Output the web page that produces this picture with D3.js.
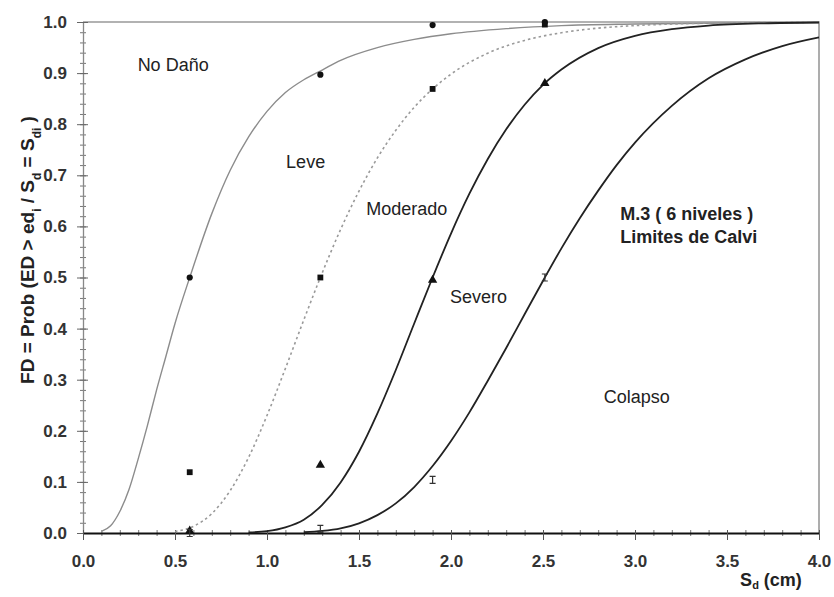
<!DOCTYPE html>
<html lang="es">
<head>
<meta charset="UTF-8">
<title>Curvas de fragilidad - M.3 (6 niveles)</title>
<script src="https://d3js.org/d3.v7.min.js"></script>
<style>
  body { margin: 0; background: #fff; }
  svg { display: block; font-family: "Liberation Sans", Arial, sans-serif; }
  .tick text { font-size: 17px; font-weight: bold; fill: #333; }
</style>
</head>
<body>
<div id="chart"></div>
<script>
const width = 834;
const height = 597;
const margin = {top: 22, right: 15, bottom: 64, left: 83};

// ticks
const xTicks = [0, 0.5, 1.0, 1.5, 2.0, 2.5, 3.0, 3.5, 4.0];
const yTicks = [0, 0.1, 0.2, 0.3, 0.4, 0.5, 0.6, 0.7, 0.8, 0.9, 1.0];

// observed points (Sd in cm)
const sdPoints = [0.58, 1.29, 1.90, 2.51];
const fdLevePts = [0.50, 0.897, 0.994, 1.0];
const fdModeradoPts = [0.119, 0.50, 0.869, 0.995];
const fdSeveroPts = [0.004, 0.133, 0.495, 0.88];
const fdColapsoPts = [0.0, 0.008, 0.104, 0.50];

// fitted curves
const sdLeve = [0.10, 0.15, 0.20, 0.25, 0.30, 0.35, 0.40, 0.45, 0.50, 0.58, 0.70, 0.80, 0.90, 1.00, 1.10, 1.20, 1.30, 1.40, 1.60, 1.80, 2.00, 2.30, 2.60, 3.00, 3.50, 4.00];
const fdLeve = [0.003, 0.014, 0.042, 0.085, 0.145, 0.21, 0.28, 0.345, 0.41, 0.50, 0.625, 0.71, 0.775, 0.825, 0.862, 0.887, 0.906, 0.925, 0.95, 0.966, 0.977, 0.987, 0.993, 0.996, 0.998, 0.999];

const sdModerado = [0.50, 0.60, 0.70, 0.80, 0.90, 1.00, 1.10, 1.20, 1.29, 1.40, 1.50, 1.60, 1.70, 1.80, 1.90, 2.00, 2.20, 2.40, 2.60, 2.80, 3.00, 3.30, 3.60, 4.00];
const fdModerado = [0.003, 0.013, 0.038, 0.083, 0.148, 0.23, 0.322, 0.417, 0.50, 0.594, 0.669, 0.734, 0.788, 0.833, 0.869, 0.898, 0.939, 0.964, 0.979, 0.988, 0.993, 0.997, 0.9985, 0.9995];

const sdSevero = [0.90, 1.00, 1.10, 1.20, 1.30, 1.40, 1.50, 1.60, 1.70, 1.80, 1.90, 2.00, 2.10, 2.20, 2.30, 2.40, 2.50, 2.60, 2.80, 3.00, 3.20, 3.40, 3.70, 4.00];
const fdSevero = [0.001, 0.0035, 0.011, 0.026, 0.055, 0.099, 0.159, 0.234, 0.319, 0.41, 0.50, 0.586, 0.664, 0.732, 0.79, 0.838, 0.877, 0.907, 0.949, 0.973, 0.986, 0.993, 0.9975, 0.999];

const sdColapso = [1.20, 1.30, 1.40, 1.50, 1.60, 1.70, 1.80, 1.90, 2.00, 2.10, 2.20, 2.30, 2.40, 2.51, 2.60, 2.70, 2.80, 2.90, 3.00, 3.20, 3.40, 3.60, 3.80, 4.00];
const fdColapso = [0.0015, 0.004, 0.009, 0.019, 0.035, 0.058, 0.09, 0.131, 0.18, 0.236, 0.298, 0.362, 0.428, 0.50, 0.557, 0.616, 0.67, 0.72, 0.764, 0.836, 0.89, 0.927, 0.953, 0.97];

// damage state labels (data coords)
const stateNames = ["No Daño", "Leve", "Moderado", "Severo", "Colapso"];
const stateSd = [0.49, 1.21, 1.76, 2.15, 3.01];
const stateFd = [0.916, 0.726, 0.635, 0.462, 0.266];

const svg = d3.select("#chart")
  .append("svg")
  .attr("width", width)
  .attr("height", height);

const x = d3.scaleLinear().domain([0, 4]).range([margin.left, width - margin.right]);
const y = d3.scaleLinear().domain([0, 1]).range([height - margin.bottom, margin.top]);

// frame (top + right)
svg.append("path")
  .attr("d", `M${x(0)},${y(1)}H${x(4)}V${y(0)}`)
  .attr("fill", "none")
  .attr("stroke", "#999")
  .attr("stroke-width", 1.6);

// minor ticks
const yMinorAxis = svg.append("g")
  .attr("transform", `translate(${x(0)},0)`)
  .call(d3.axisLeft(y).tickValues(d3.range(0, 1.001, 0.02)).tickFormat("").tickSize(3).tickSizeOuter(0));
yMinorAxis.selectAll("line").attr("x1", 3).attr("stroke", "#777");
yMinorAxis.select(".domain").remove();

const xMinorAxis = svg.append("g")
  .attr("transform", `translate(0,${y(0)})`)
  .call(d3.axisBottom(x).tickValues(d3.range(0, 4.001, 0.1)).tickFormat("").tickSize(3).tickSizeOuter(0));
xMinorAxis.selectAll("line").attr("y1", -3).attr("stroke", "#777");
xMinorAxis.select(".domain").remove();

// major axes
const yAxis = svg.append("g")
  .attr("transform", `translate(${x(0)},0)`)
  .call(d3.axisLeft(y).tickValues(yTicks).tickFormat(d3.format(".1f")).tickSize(6).tickSizeOuter(0));
yAxis.selectAll("line").attr("x1", 5).attr("stroke", "#666");
yAxis.select(".domain").attr("stroke", "#888").attr("stroke-width", 1.3);
yAxis.selectAll("text").attr("x", -16);

const xAxis = svg.append("g")
  .attr("transform", `translate(0,${y(0)})`)
  .call(d3.axisBottom(x).tickValues(xTicks).tickFormat(d3.format(".1f")).tickSize(7).tickSizeOuter(0));
xAxis.selectAll("line").attr("y1", -3).attr("stroke", "#555");
xAxis.select(".domain").attr("stroke", "#111").attr("stroke-width", 2.2);
xAxis.selectAll("text").attr("y", 22);

// axis titles
const yTitle = svg.append("text")
  .attr("transform", `translate(27,250) rotate(-90)`)
  .attr("text-anchor", "middle")
  .attr("dy", "0.35em")
  .style("font-size", "19px")
  .style("font-weight", "bold")
  .style("fill", "#222");
yTitle.append("tspan").text("FD = Prob (ED > ed");
yTitle.append("tspan").attr("baseline-shift", "sub").style("font-size", "12px").text("i");
yTitle.append("tspan").text(" / S");
yTitle.append("tspan").attr("baseline-shift", "sub").style("font-size", "12px").text("d");
yTitle.append("tspan").text(" = S");
yTitle.append("tspan").attr("baseline-shift", "sub").style("font-size", "12px").text("di");
yTitle.append("tspan").text(" )");

const xTitle = svg.append("text")
  .attr("x", 771)
  .attr("y", 586)
  .attr("text-anchor", "middle")
  .style("font-size", "18px")
  .style("font-weight", "bold")
  .style("fill", "#222");
xTitle.append("tspan").text("S");
xTitle.append("tspan").attr("dy", 3).style("font-size", "11px").text("d");
xTitle.append("tspan").attr("dy", -3).text(" (cm)");

// curves
const line = d3.line()
  .x(d => x(d[0]))
  .y(d => y(d[1]))
  .curve(d3.curveMonotoneX);

const curves = [
  {sd: sdLeve, fd: fdLeve, color: "#8c8c8c", w: 1.4, dash: null},
  {sd: sdModerado, fd: fdModerado, color: "#9a9a9a", w: 1.6, dash: "2.5,3"},
  {sd: sdSevero, fd: fdSevero, color: "#222", w: 1.8, dash: null},
  {sd: sdColapso, fd: fdColapso, color: "#222", w: 1.8, dash: null}
];

svg.append("g")
  .selectAll("path")
  .data(curves)
  .enter()
  .append("path")
  .attr("d", c => line(d3.zip(c.sd, c.fd)))
  .attr("fill", "none")
  .attr("stroke", c => c.color)
  .attr("stroke-width", c => c.w)
  .attr("stroke-dasharray", c => c.dash);

// markers
const iBeam = "M-3,-3.5H3M0,-3.5V3.5M-3,3.5H3";
const markerSets = [
  {fd: fdLevePts, type: d3.symbolCircle, size: 30},
  {fd: fdModeradoPts, type: d3.symbolSquare, size: 34},
  {fd: fdSeveroPts, type: d3.symbolTriangle, size: 38},
  {fd: fdColapsoPts, type: null}
];

markerSets.forEach(m => {
  const g = svg.append("g");
  const pts = d3.zip(sdPoints, m.fd);
  if (m.type) {
    g.selectAll("path")
      .data(pts)
      .enter()
      .append("path")
      .attr("transform", d => `translate(${x(d[0])},${y(d[1])})`)
      .attr("d", d3.symbol().type(m.type).size(m.size))
      .attr("fill", "#111");
  } else {
    g.selectAll("path")
      .data(pts)
      .enter()
      .append("path")
      .attr("transform", d => `translate(${x(d[0])},${y(d[1])})`)
      .attr("d", iBeam)
      .attr("fill", "none")
      .attr("stroke", "#333")
      .attr("stroke-width", 1.2);
  }
});

// damage state labels
svg.append("g")
  .selectAll("text")
  .data(stateNames)
  .enter()
  .append("text")
  .attr("x", (d, i) => x(stateSd[i]))
  .attr("y", (d, i) => y(stateFd[i]))
  .attr("dy", "0.35em")
  .attr("text-anchor", "middle")
  .style("font-size", "18px")
  .style("fill", "#222")
  .text(d => d);

// model note
const note = svg.append("text")
  .attr("x", x(2.92))
  .attr("y", y(0.624))
  .style("font-size", "18px")
  .style("font-weight", "bold")
  .style("fill", "#222");
note.append("tspan").attr("x", x(2.92)).attr("dy", "0.35em").text("M.3 ( 6 niveles )");
note.append("tspan").attr("x", x(2.92)).attr("dy", "1.25em").text("Limites de Calvi");
</script>
</body>
</html>
